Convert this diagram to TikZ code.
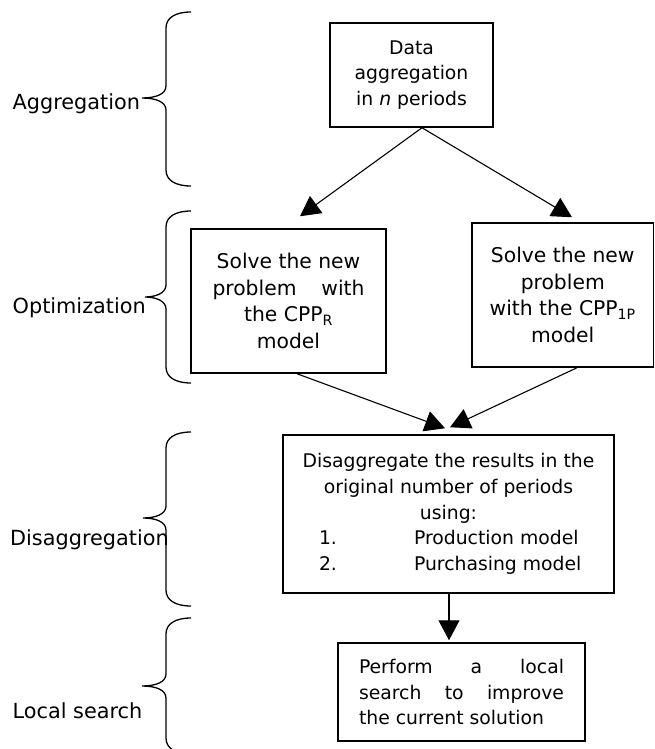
\documentclass[tikz,border=0pt]{standalone}
\usepackage{fontspec}
\setmainfont{DejaVu Sans}
\usetikzlibrary{arrows.meta}
\tikzset{
  box/.style={draw, line width=1.5pt, inner sep=0pt, align=center},
  smalltext/.style={font=\fontsize{18.8}{25.6}\selectfont},
  bigtext/.style={font=\fontsize{20.3}{26.7}\selectfont},
  conn/.style={line width=1.1pt, -{Triangle[length=20pt,width=21pt]}},
  bracestyle/.style={line width=1.3pt},
  lab/.style={anchor=base west, inner sep=0pt, font=\fontsize{20.8}{25}\selectfont},
}
\newcommand\mybrace[4]{%
  \draw[bracestyle] (191,#1) .. controls (175,#1) and (166,#1+6) .. (166,#1+16)
    -- (166,#2-12) .. controls (166,#2-4) and (156,#2) .. (#4,#2)
    .. controls (156,#2) and (166,#2+4) .. (166,#2+12)
    -- (166,#3-16) .. controls (166,#3-6) and (175,#3) .. (191,#3);}
\begin{document}
\begin{tikzpicture}[x=1pt,y=-1pt]
  \useasboundingbox (0,0) rectangle (655,749);
  \fill[white] (0,0) rectangle (655,749);
  \clip (0,0) rectangle (655,749);

  % braces
  \mybrace{12}{98}{186}{142}
  \mybrace{211}{297}{383}{145}
  \mybrace{432}{518}{606}{143}
  \mybrace{618}{686}{754}{142}

  % labels
  \node[lab] (lagg) at (12.5,110) {Aggregation};
  \node[lab] (lopt) at (12.5,313) {Optimization};
  \node[lab] (ldis) at (10,545) {Disaggregation};
  \node[lab] (lloc) at (12.5,718) {Local search};

  % boxes
  \node[box, smalltext, minimum width=163pt, minimum height=104pt] (data) at (411.5,75)
    {Data\\aggregation\\in \textit{n} periods};
  \node[box, bigtext, minimum width=195pt, minimum height=144pt] (lb) at (288.5,301)
    {Solve the new\\\makebox[152pt][s]{problem with}\\the CPP\textsubscript{R}\\model};
  \node[box, bigtext, minimum width=181.5pt, minimum height=144pt] (rb) at (562.75,295)
    {Solve the new\\problem\\with the CPP\textsubscript{1P}\\model};
  \node[box, smalltext, minimum width=331pt, minimum height=158pt] (dis) at (448.5,514)
    {Disaggregate the results in the\\original number of periods\\using:\\
     \makebox[259pt][l]{\makebox[95pt][l]{1.}Production model}\\
     \makebox[259pt][l]{\makebox[95pt][l]{2.}Purchasing model}};
  \node[box, smalltext, minimum width=247pt, minimum height=98pt, align=left] (loc) at (461.5,692)
    {\makebox[205pt][s]{Perform a local}\\\makebox[205pt][s]{search to improve}\\the current solution};

  % connectors
  \draw[conn] ([xshift=10.5pt]data.south) -- ([xshift=11.5pt,yshift=12pt]lb.north);
  \draw[conn] ([xshift=10.5pt]data.south) -- ([xshift=9.25pt,yshift=5pt]rb.north);
  \draw[conn] ([xshift=8.5pt]lb.south) -- ([xshift=-3.5pt,yshift=6pt]dis.north);
  \draw[conn] ([xshift=14.25pt]rb.south) -- ([xshift=1.5pt,yshift=7pt]dis.north);
  \draw[conn] ([xshift=0.5pt]dis.south) -- ([xshift=-12.5pt,yshift=2pt]loc.north);
\end{tikzpicture}
\end{document}
